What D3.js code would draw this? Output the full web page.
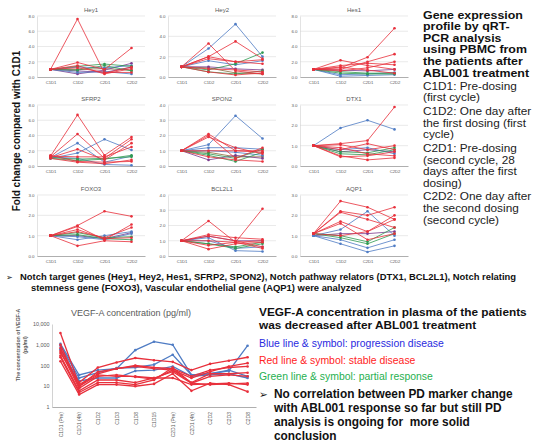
<!DOCTYPE html>
<html><head><meta charset="utf-8">
<script src="https://cdn.jsdelivr.net/npm/d3@7"></script>
<style>
html,body{margin:0;padding:0;background:#fff;}
svg{display:block;font-family:"Liberation Sans",Arial,sans-serif;}
text{white-space:pre;}
</style></head><body>
<svg id="c" width="539" height="446"></svg>
<script>
// ---------- DATA ----------
const timepoints = ["C1D1","C1D2","C2D1","C2D2"];
const genes = ["Hey1","Hey2","Hes1","SFRP2","SPON2","DTX1","FOXO3","BCL2L1","AQP1"];
const geneMax = [8,6,8,8,4,3,3,4,3];
const geneTickStep = [2,2,2,2,1,1,1,1,1];
// each row: [response group, C1D1, C1D2, C2D1, C2D2]
const hey1 = [
 ["O2",1,1.0,1.1,0.9],["O1",1,0.4,0.9,1.8],["O1",1,0.8,0.6,1.3],
 ["PD",1,1.3,1.2,1.5],["PD",1,0.6,0.7,0.4],["PR",1,1.4,1.7,1.4],["PR",1,0.9,1.5,0.8],
 ["SD",1,7.6,0.5,1.3],["SD",1,1.9,1.0,3.8],["SD",1,1.5,0.4,1.1],["SD",1,1.2,0.6,0.6]];
const hey2 = [
 ["O2",1,0.9,0.4,0.3],["O1",1,1.0,0.8,0.7],
 ["PD",1,2.8,5.2,2.0],["PD",1,1.6,1.2,1.6],["PR",1,0.5,0.3,0.6],["PR",1,0.7,1.3,2.4],
 ["SD",1,3.3,0.6,0.3],["SD",1,2.0,3.5,1.8],["SD",1,2.0,1.5,1.7],["SD",1,1.8,1.5,1.3],
 ["SD",1,0.8,0.7,0.5],["SD",1,0.5,0.2,0.4]];
const hes1 = [
 ["O1",1,0.9,0.8,1.0],["PD",1,0.1,0.2,0.3],["PD",1,0.3,0.4,0.6],
 ["PR",1,0.5,0.4,0.4],["PR",1,0.7,0.5,0.5],
 ["SD",1,2.2,1.5,1.0],["SD",1,1.2,2.6,6.4],["SD",1,1.0,2.0,3.0],["SD",1,1.5,1.8,1.6],
 ["SD",1,0.8,1.2,2.0],["SD",1,1.3,0.9,0.5]];
const sfrp2 = [
 ["PD",1.1,3.0,0.5,1.3],["PD",1.0,1.7,3.5,2.1],["PD",1.2,1.0,0.2,0.1],
 ["PR",1.0,0.7,0.9,1.4],["PR",1.1,0.9,1.0,1.2],
 ["SD",1.3,6.7,1.4,3.8],["SD",1.2,4.2,1.0,3.5],["SD",1.1,2.2,0.8,3.0],
 ["SD",1.3,1.2,1.2,2.5],["SD",1.0,0.5,0.3,0.8],["SD",1.4,0.6,0.5,0.6]];
const spon2 = [
 ["O2",1,0.9,0.6,0.6],["O1",1,0.4,0.7,0.5],
 ["PD",1,1.4,3.3,1.8],["PD",1,1.2,1.2,1.1],["PD",1,1.0,0.9,0.7],
 ["PR",1,0.7,0.3,0.9],["PR",1,0.8,0.5,1.1],
 ["SD",1,2.1,1.0,0.9],["SD",1,2.0,0.5,1.2],["SD",1,1.9,1.2,0.8],["SD",1,1.0,1.0,1.0],["SD",1,0.6,0.4,0.3]];
const dtx1 = [
 ["O1",1,0.7,0.8,0.7],["PD",1,1.87,2.25,1.8],["PD",1,0.8,0.9,0.6],
 ["PR",1,0.6,0.55,0.8],["PR",1,0.7,0.65,0.9],
 ["SD",1,1.1,1.25,2.9],["SD",1,1.05,0.8,1.0],["SD",1,0.5,0.3,0.4],["SD",1,0.45,0.5,0.7],
 ["SD",1,0.9,0.6,0.5],["SD",1,0.8,1.1,0.8]];
const foxo3 = [
 ["O1",1,1.0,0.85,1.15],["PD",1,0.8,1.0,1.2],["PD",1,0.95,0.8,1.1],
 ["PR",1,1.15,0.9,0.95],["PR",1,1.05,0.85,0.8],
 ["SD",1,1.5,2.2,1.95],["SD",1,1.45,0.8,1.55],["SD",1,0.5,0.75,0.7],
 ["SD",1,1.3,0.85,0.9],["SD",1,1.2,0.9,1.4]];
const bcl2l1 = [
 ["O1",1,1.3,1.0,1.0],["PD",1,1.2,0.35,0.3],["PD",1,1.0,0.5,0.6],
 ["PR",1,0.8,0.5,0.8],["PR",1,0.8,0.6,0.9],
 ["SD",1,2.3,0.9,1.0],["SD",1,1.0,0.9,3.1],["SD",1,1.4,1.2,1.1],
 ["SD",1,0.45,0.8,0.9],["SD",1,1.3,1.0,0.6],["SD",1,0.7,0.9,0.5]];
const aqp1 = [
 ["O1",1.0,1.1,1.1,1.2],["PD",1.0,1.3,2.2,1.0],["PD",1.0,0.6,0.2,0.5],["PD",1.0,0.8,0.4,0.8],
 ["PR",1.1,1.0,0.7,1.4],["PR",1.1,0.9,0.6,1.1],
 ["SD",1.1,2.7,2.4,1.8],["SD",1.1,2.2,2.0,2.4],["SD",1.1,2.15,1.8,1.4],
 ["SD",1.1,1.7,1.2,2.0],["SD",1.1,1.6,0.8,1.1],["SD",1.1,1.0,1.2,1.8]];
const geneData = [hey1,hey2,hes1,sfrp2,spon2,dtx1,foxo3,bcl2l1,aqp1];

const vegfTimepoints = ["C1D1 (Pre)","C1D1 (4h)","C1D2","C1D3","C1D8","C1D15","C2D1 (Pre)","C2D1 (4h)","C2D2","C2D3","C2D8"];
const vegfTicks = [1,10,100,1000,10000];
const vegfSeries = [
 ["PD",1100,35,60,70,550,1400,1000,35,40,55,900],
 ["PD",900,25,45,75,80,110,330,35,40,60,30],
 ["PD",600,18,25,25,55,60,90,30,35,40,25],
 ["SD",3700,12,40,70,90,70,60,25,50,90,130],
 ["SD",400,15,80,140,230,180,150,60,120,170,250],
 ["SD",700,10,50,70,100,80,70,30,60,80,90],
 ["SD",500,8,30,35,28,22,60,15,40,40,45],
 ["SD",300,6,20,20,15,25,50,14,30,35,30],
 ["SD",250,5,15,15,12,20,80,14,12,13,14],
 ["SD",160,4,12,12,10,13,40,6,14,12,5.5],
 ["SD",1000,10,35,30,30,25,25,12,13,14,12]];

// ---------- STYLE ----------
const groupColor = {SD:"#e8303c", PD:"#4f7cc4", PR:"#2f9a52", O1:"#7b3b8e", O2:"#8c6a3c"};
const svg = d3.select("#c");
const colX = [37,168,300], rowY = [[16,77],[105,166],[195,256]], pw = 108;

genes.forEach((name,i)=>{
  const cx = colX[i%3], [top,bot] = rowY[Math.floor(i/3)];
  const x = d3.scalePoint().domain(timepoints).range([cx,cx+pw]).padding(0.5);
  const y = d3.scaleLinear().domain([0,geneMax[i]]).range([bot,top]);
  const ticks = d3.range(0, geneMax[i]+1e-9, geneTickStep[i]);
  const g = svg.append("g");
  g.selectAll("line.grid").data(ticks.slice(1)).join("line")
    .attr("x1",cx).attr("x2",cx+pw).attr("y1",d=>y(d)).attr("y2",d=>y(d))
    .attr("stroke","#dcdcdc").attr("stroke-width",0.6);
  g.append("g").attr("transform",`translate(${cx},0)`)
    .call(d3.axisLeft(y).tickValues(ticks).tickSize(0).tickPadding(2.5).tickFormat(d3.format(".1f")))
    .call(s=>{s.select(".domain").attr("stroke","#d0d0d0").attr("stroke-width",0.6);
      s.selectAll("text").attr("font-size",4.4).attr("fill","#595959").attr("font-family","Liberation Sans, Arial");});
  g.append("g").attr("transform",`translate(0,${bot})`)
    .call(d3.axisBottom(x).tickSize(0).tickSizeOuter(0).tickPadding(4))
    .call(s=>{s.select(".domain").attr("stroke","#9a9a9a").attr("stroke-width",0.8);
      s.selectAll("text").attr("font-size",4.2).attr("fill","#595959").attr("font-family","Liberation Sans, Arial");});
  g.append("text").attr("x",cx+pw/2).attr("y",top-4.5).attr("text-anchor","middle")
    .attr("font-size",6).attr("fill","#595959").text(name);
  const line = d3.line().x((d,j)=>x(timepoints[j])).y(d=>y(d));
  geneData[i].forEach(r=>{
    const vals = r.slice(1), col = groupColor[r[0]];
    g.append("path").attr("d",line(vals)).attr("fill","none").attr("stroke",col)
      .attr("stroke-width",0.9).attr("stroke-opacity",0.9);
    g.selectAll(null).data(vals).join("circle").attr("cx",(d,j)=>x(timepoints[j])).attr("cy",d=>y(d))
      .attr("r",1.3).attr("fill",col);
  });
});

svg.append("text").attr("transform","translate(19.5,131) rotate(-90)").attr("text-anchor","middle")
  .attr("font-size",10).attr("font-weight","bold").attr("fill","#111").text("Fold change compared with C1D1");

// ---------- text helpers ----------
// lines: separate <text> elements; optional fit of block to a target width;
// optional "maxSize": glyph height capped (to keep tight line spacing clear), width kept via textLength
function para(x, lines, opts){
  const els = lines.map(l=>svg.append("text").attr("x",l.x!==undefined?l.x:x).attr("y",l.y)
    .attr("font-size",l.size||opts.size).attr("font-weight",(l.bold!==undefined?l.bold:opts.bold)?"bold":"normal")
    .attr("fill",l.fill||opts.fill||"#111").text(l.t));
  if(opts.fitIndex!==undefined){
    const w = els[opts.fitIndex].node().getComputedTextLength();
    const k = opts.fitWidth/w;
    els.forEach(s=>s.attr("font-size",parseFloat(s.attr("font-size"))*k));
  }
  if(opts.maxSize){
    els.forEach(s=>{
      const fs = parseFloat(s.attr("font-size"));
      if(fs>opts.maxSize){
        const w = s.node().getComputedTextLength();
        s.attr("font-size",opts.maxSize).attr("textLength",w).attr("lengthAdjust","spacingAndGlyphs");
      }
    });
  }
  return els;
}

para(423,[
 {t:"Gene expression",y:18.5,bold:true,size:12.4},
 {t:"profile by qRT-",y:30.1,bold:true,size:12.4},
 {t:"PCR analysis",y:41.7,bold:true,size:12.4},
 {t:"using PBMC from",y:53.3,bold:true,size:12.4},
 {t:"the patients after",y:64.9,bold:true,size:12.4},
 {t:"ABL001 treatment",y:76.5,bold:true,size:12.4},
 {t:"C1D1: Pre-dosing",y:89.5,fill:"#222"},
 {t:"(first cycle)",y:101.2,fill:"#222"},
 {t:"C1D2: One day after",y:115.2,fill:"#222"},
 {t:"the first dosing (first",y:126.8,fill:"#222"},
 {t:"cycle)",y:138.2,fill:"#222"},
 {t:"C2D1: Pre-dosing",y:151.8,fill:"#222"},
 {t:"(second cycle, 28",y:163.5,fill:"#222"},
 {t:"days after the first",y:175.2,fill:"#222"},
 {t:"dosing)",y:186.6,fill:"#222"},
 {t:"C2D2: One day after",y:200.2,fill:"#222"},
 {t:"the second dosing",y:211.8,fill:"#222"},
 {t:"(second cycle)",y:223.5,fill:"#222"}],{size:11.8,bold:false,maxSize:10.3});

svg.append("text").attr("x",6).attr("y",279.5).attr("font-size",8).attr("font-family","DejaVu Sans").attr("fill","#111").text("➢");
para(20,[
 {t:"Notch target genes (Hey1, Hey2, Hes1, SFRP2, SPON2), Notch pathway relators (DTX1, BCL2L1), Notch relating",y:279.5},
 {t:"stemness gene (FOXO3), Vascular endothelial gene (AQP1) were analyzed",y:291,x:31}],
 {size:8.4,bold:true,fitIndex:0,fitWidth:495});

// ---------- VEGF chart ----------
const vx = d3.scalePoint().domain(vegfTimepoints).range([52,256]).padding(0.45);
const vy = d3.scaleLog().domain([1,10000]).range([407,324]);
const vg = svg.append("g");
vg.append("g").attr("transform","translate(52,0)")
  .call(d3.axisLeft(vy).tickValues(vegfTicks).tickSize(0).tickPadding(2.5).tickFormat(d3.format(",")))
  .call(s=>{s.select(".domain").attr("stroke","#bfbfbf").attr("stroke-width",0.7);
    s.selectAll("text").attr("font-size",5.4).attr("fill","#595959").attr("font-family","Liberation Sans, Arial");});
vg.append("g").attr("transform","translate(0,407)")
  .call(d3.axisBottom(vx).tickSize(0).tickSizeOuter(0).tickPadding(0))
  .call(s=>{s.select(".domain").attr("stroke","#9a9a9a").attr("stroke-width",0.8);
    s.selectAll("text").attr("font-size",5).attr("fill","#595959").attr("font-family","Liberation Sans, Arial")
      .attr("text-anchor","end").attr("transform","translate(0,5) rotate(-90)").attr("dy","0.35em").attr("y",0).attr("x",0);});
vg.append("text").attr("x",131).attr("y",316).attr("text-anchor","middle").attr("font-size",9)
  .attr("fill","#595959").text("VEGF-A concentration (pg/ml)");
vg.append("text").attr("transform","translate(19.5,345) rotate(-90)").attr("text-anchor","middle")
  .attr("font-size",5.2).attr("font-weight","bold").attr("fill","#595959").text("The concentration of VEGF-A");
vg.append("text").attr("transform","translate(26.5,345) rotate(-90)").attr("text-anchor","middle")
  .attr("font-size",5.2).attr("font-weight","bold").attr("fill","#595959").text("(pg/ml)");
const vline = d3.line().x((d,j)=>vx(vegfTimepoints[j])).y(d=>vy(d));
vegfSeries.forEach(r=>{
  const vals = r.slice(1), col = groupColor[r[0]];
  vg.append("path").attr("d",vline(vals)).attr("fill","none").attr("stroke",col).attr("stroke-width",1.3);
  vg.selectAll(null).data(vals).join("circle").attr("cx",(d,j)=>vx(vegfTimepoints[j])).attr("cy",d=>vy(d))
    .attr("r",1.3).attr("fill",col);
});

para(259,[
 {t:"VEGF-A concentration in plasma of the patients",y:315.5},
 {t:"was decreased after ABL001 treatment",y:329}],{size:11,bold:true,fitIndex:0,fitWidth:268});
para(259,[
 {t:"Blue line & symbol: progression disease",y:346.5,fill:"#2a2ae0"},
 {t:"Red line & symbol: stable disease",y:363.5,fill:"#ff2424"},
 {t:"Green line & symbol: partial response",y:379.7,fill:"#27b050"}],{size:10.5,bold:false,fitIndex:0,fitWidth:185});
svg.append("text").attr("x",259).attr("y",398.3).attr("font-size",10.5).attr("font-family","DejaVu Sans").attr("fill","#111").text("➢");
para(274,[
 {t:"No correlation between PD marker change",y:398.3},
 {t:"with ABL001 response so far but still PD",y:412},
 {t:"analysis is ongoing for  more solid",y:425.8},
 {t:"conclusion",y:440}],{size:11,bold:true,fitIndex:0,fitWidth:239});
</script>
</body></html>
